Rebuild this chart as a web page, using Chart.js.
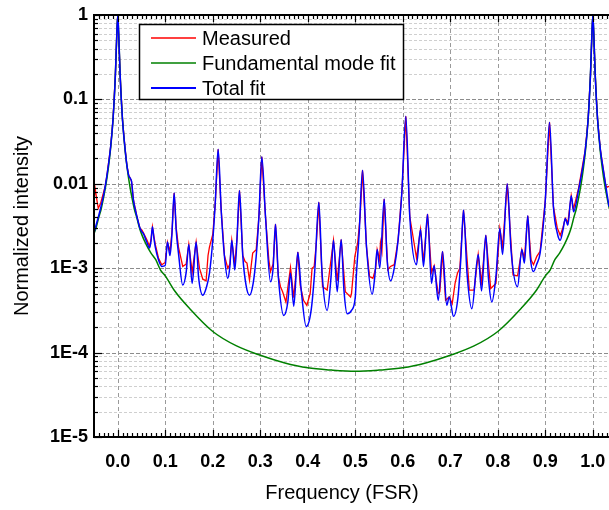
<!DOCTYPE html>
<html>
<head>
<meta charset="utf-8">
<script src="https://cdn.jsdelivr.net/npm/chart.js@4.4.1/dist/chart.umd.min.js"></script>
<style>
  html, body { margin: 0; padding: 0; background: #fff; }
</style>
</head>
<body>
<canvas id="spectrum" width="609" height="510"></canvas>
<script>
(function() {

  // frequency in units of FSR, intensity normalized to the main peak
  const measuredFreq = [
    -0.05, -0.0475, -0.044, -0.041, -0.036, -0.0265, -0.023, -0.015, -0.01, -0.005,
    -0.0025, 0, 0.0025, 0.005, 0.01, 0.015, 0.019, 0.023, 0.026, 0.029,
    0.033, 0.04, 0.047, 0.051, 0.054, 0.061, 0.067, 0.07, 0.073, 0.076,
    0.079, 0.0857, 0.0926, 0.0998, 0.1046, 0.11, 0.114, 0.1187, 0.123, 0.1278,
    0.1368, 0.144, 0.1495, 0.1566, 0.165, 0.172, 0.179, 0.186, 0.19, 0.193,
    0.2, 0.205, 0.2113, 0.2177, 0.2246, 0.2316, 0.236, 0.24, 0.2463, 0.251,
    0.2562, 0.2632, 0.268, 0.272, 0.2773, 0.284, 0.2914, 0.297, 0.3032, 0.311,
    0.318, 0.3215, 0.327, 0.332, 0.338, 0.3425, 0.347, 0.354, 0.3636, 0.3705,
    0.379, 0.384, 0.391, 0.398, 0.405, 0.409, 0.4135, 0.418, 0.4232, 0.431,
    0.4408, 0.4541, 0.4619, 0.4703, 0.479, 0.49, 0.492, 0.496, 0.499, 0.505,
    0.51, 0.5152, 0.5236, 0.53, 0.537, 0.543, 0.546, 0.551, 0.553, 0.556,
    0.5608, 0.5685, 0.574, 0.582, 0.59, 0.598, 0.6063, 0.6147, 0.6288, 0.6373,
    0.6436, 0.652, 0.6604, 0.666, 0.6745, 0.678, 0.6836, 0.69, 0.6977, 0.704,
    0.71, 0.715, 0.72, 0.7278, 0.74, 0.75, 0.7587, 0.7657, 0.7747, 0.785,
    0.796, 0.8042, 0.81, 0.8198, 0.832, 0.8415, 0.8505, 0.856, 0.863, 0.87,
    0.875, 0.882, 0.889, 0.9, 0.9088, 0.917, 0.925, 0.9313, 0.937, 0.942,
    0.9474, 0.9545, 0.9594, 0.97, 0.984, 0.99, 0.995, 0.9975, 1, 1.0025,
    1.005, 1.01, 1.016, 1.0225, 1.027, 1.03, 1.034
  ];
  const measuredValues = [
    6.46e-3, 8.71e-3, 6.46e-3, 5.13e-3, 5.89e-3, 9.33e-3, 0.0123, 0.0275, 0.0575, 0.195,
    0.49, 1, 0.49, 0.195, 0.0575, 0.0275, 0.017, 0.0126, 0.0117, 0.0107,
    6.46e-3, 4.17e-3, 2.95e-3, 2.82e-3, 2.63e-3, 2.19e-3, 1.82e-3, 2.19e-3, 3.09e-3, 2.40e-3,
    1.91e-3, 1.32e-3, 1.10e-3, 1.17e-3, 2.04e-3, 1.58e-3, 2.63e-3, 7.76e-3, 3.02e-3, 1.78e-3,
    1.05e-3, 1.12e-3, 1.91e-3, 8.91e-4, 2.04e-3, 1.00e-3, 7.41e-4, 7.08e-4, 1.41e-3, 1.78e-3,
    2.51e-3, 5.62e-3, 0.0257, 4.90e-3, 1.41e-3, 1.00e-3, 1.12e-3, 2.14e-3, 1.12e-3, 2.24e-3,
    8.32e-3, 1.41e-3, 1.20e-3, 1.15e-3, 7.24e-4, 1.51e-3, 1.66e-3, 3.98e-3, 0.0209, 4.07e-3,
    1.26e-3, 9.12e-4, 1.12e-3, 3.31e-3, 7.94e-4, 6.03e-4, 5.25e-4, 3.98e-4, 1.02e-3, 4.47e-4,
    1.55e-3, 6.31e-4, 4.17e-4, 3.63e-4, 5.01e-4, 1.00e-3, 1.05e-3, 2.00e-3, 6.03e-3, 6.03e-4,
    5.50e-4, 2.14e-3, 7.08e-4, 2.19e-3, 5.25e-4, 4.57e-4, 5.01e-4, 8.91e-4, 1.38e-3, 2.00e-3,
    3.98e-3, 0.0145, 1.78e-3, 7.94e-4, 7.59e-4, 1.00e-3, 1.66e-3, 1.26e-3, 2.00e-3, 1.58e-3,
    6.61e-3, 9.55e-4, 1.05e-3, 1.10e-3, 2.14e-3, 7.94e-3, 0.0631, 4.07e-3, 1.32e-3, 2.88e-3,
    1.20e-3, 4.37e-3, 8.91e-4, 1.07e-3, 5.01e-4, 5.25e-4, 1.58e-3, 4.17e-4, 4.57e-4, 3.80e-4,
    6.61e-4, 8.71e-4, 1.00e-3, 4.90e-3, 5.50e-4, 5.50e-4, 1.45e-3, 6.76e-4, 2.45e-3, 5.75e-4,
    6.61e-4, 2.95e-3, 1.78e-3, 0.0100, 8.32e-4, 8.13e-4, 1.66e-3, 1.32e-3, 4.17e-3, 1.26e-3,
    1.10e-3, 1.38e-3, 1.58e-3, 6.46e-3, 0.0537, 5.37e-3, 3.02e-3, 2.45e-3, 3.02e-3, 3.89e-3,
    3.47e-3, 7.24e-3, 5.01e-3, 8.91e-3, 0.0251, 0.0575, 0.195, 0.49, 1, 0.49,
    0.195, 0.0575, 0.0251, 0.0141, 9.55e-3, 9.12e-3, 9.33e-3
  ];

  const fundFreq = [
    -0.05, -0.045, -0.04, -0.035, -0.03, -0.025, -0.02, -0.015, -0.01, -0.0075,
    -0.005, -0.0025, 0, 0.0025, 0.005, 0.0075, 0.01, 0.015, 0.02, 0.025,
    0.03, 0.035, 0.04, 0.045, 0.05, 0.06, 0.07, 0.08, 0.09, 0.1,
    0.12, 0.15, 0.2, 0.25, 0.3, 0.35, 0.4, 0.45, 0.5, 0.55,
    0.6, 0.65, 0.7, 0.75, 0.8, 0.85, 0.88, 0.9, 0.91, 0.92,
    0.93, 0.94, 0.95, 0.955, 0.96, 0.965, 0.97, 0.975, 0.98, 0.985,
    0.99, 0.9925, 0.995, 0.9975, 1, 1.0025, 1.005, 1.0075, 1.01, 1.015,
    1.02, 1.025, 1.03, 1.035
  ];
  const fundValues = [
    2.55e-3, 3.1e-3, 4.0e-3, 5.0e-3, 6.8e-3, 9.7e-3, 0.0151, 0.0264, 0.0575, 0.098,
    0.196, 0.494, 1, 0.494, 0.196, 0.098, 0.0575, 0.0264, 0.0151, 9.7e-3,
    6.8e-3, 5.0e-3, 4.0e-3, 3.1e-3, 2.55e-3, 1.9e-3, 1.51e-3, 1.26e-3, 9.5e-4, 8.1e-4,
    5.37e-4, 3.39e-4, 1.78e-4, 1.2e-4, 9.3e-5, 7.6e-5, 6.6e-5, 6.2e-5, 6.0e-5, 6.2e-5,
    6.6e-5, 7.6e-5, 9.3e-5, 1.2e-4, 1.78e-4, 3.39e-4, 5.37e-4, 8.1e-4, 9.5e-4, 1.26e-3,
    1.51e-3, 1.9e-3, 2.55e-3, 3.1e-3, 4.0e-3, 5.0e-3, 6.8e-3, 9.7e-3, 0.0151, 0.0264,
    0.0575, 0.098, 0.196, 0.494, 1, 0.494, 0.196, 0.098, 0.0575, 0.0264,
    0.0151, 9.7e-3, 6.8e-3, 5.0e-3
  ];

  const fitFreq = [
    -0.05, -0.037, -0.03, -0.023, -0.015, -0.01, -0.005, -0.0025, 0, 0.0025,
    0.005, 0.01, 0.015, 0.019, 0.023, 0.026, 0.029, 0.033, 0.04, 0.047,
    0.051, 0.054, 0.061, 0.067, 0.07, 0.073, 0.076, 0.079, 0.0857, 0.0926,
    0.0998, 0.1046, 0.11, 0.114, 0.1187, 0.123, 0.1278, 0.1368, 0.144, 0.1495,
    0.1566, 0.165, 0.17, 0.179, 0.187, 0.193, 0.2, 0.205, 0.2113, 0.2177,
    0.2246, 0.2316, 0.236, 0.24, 0.2463, 0.251, 0.2562, 0.2632, 0.27, 0.2773,
    0.285, 0.2914, 0.297, 0.3032, 0.311, 0.3215, 0.327, 0.332, 0.338, 0.3495,
    0.358, 0.3636, 0.3705, 0.379, 0.386, 0.3966, 0.407, 0.415, 0.4232, 0.43,
    0.4408, 0.449, 0.4541, 0.4619, 0.4703, 0.476, 0.483, 0.492, 0.5, 0.5025,
    0.508, 0.5152, 0.5236, 0.5356, 0.541, 0.546, 0.5516, 0.5608, 0.567, 0.5747,
    0.582, 0.59, 0.598, 0.6063, 0.6147, 0.6288, 0.6373, 0.6436, 0.652, 0.6604,
    0.666, 0.6745, 0.6836, 0.6926, 0.6977, 0.7067, 0.716, 0.722, 0.7278, 0.735,
    0.7453, 0.7587, 0.7657, 0.7747, 0.78, 0.7874, 0.796, 0.8042, 0.81, 0.8198,
    0.828, 0.8415, 0.8505, 0.856, 0.863, 0.868, 0.875, 0.882, 0.889, 0.9,
    0.9088, 0.917, 0.925, 0.9313, 0.937, 0.942, 0.9474, 0.9545, 0.9594, 0.97,
    0.984, 0.99, 0.995, 0.9975, 1, 1.0025, 1.005, 1.01, 1.016, 1.0225,
    1.034
  ];
  const fitValues = [
    2.63e-3, 4.9e-3, 7.24e-3, 0.0123, 0.0275, 0.0575, 0.195, 0.49, 1, 0.49,
    0.195, 0.0575, 0.0275, 0.017, 0.0126, 0.0117, 0.0107, 6.46e-3, 4.17e-3, 2.95e-3,
    2.69e-3, 2.57e-3, 2.04e-3, 1.74e-3, 2.09e-3, 3.09e-3, 2.29e-3, 1.78e-3, 1.26e-3, 1.05e-3,
    1.07e-3, 2.04e-3, 1.41e-3, 2.51e-3, 7.76e-3, 2.82e-3, 1.51e-3, 6.31e-4, 8.91e-4, 1.91e-3,
    6.61e-4, 2.04e-3, 7.94e-4, 4.79e-4, 6.03e-4, 8.71e-4, 2.14e-3, 5.62e-3, 0.0257, 4.9e-3,
    1.38e-3, 7.59e-4, 1.05e-3, 2.14e-3, 9.55e-4, 2.24e-3, 8.32e-3, 1.38e-3, 6.31e-4, 4.79e-4,
    6.61e-4, 1.38e-3, 3.98e-3, 0.0209, 4.07e-3, 6.92e-4, 1.0e-3, 3.31e-3, 7.94e-4, 2.75e-4,
    3.98e-4, 8.71e-4, 3.55e-4, 1.55e-3, 5.62e-4, 2.04e-4, 3.16e-4, 1.0e-3, 6.03e-3, 8.91e-4,
    3.16e-4, 7.94e-4, 2.14e-3, 5.25e-4, 2.19e-3, 5.62e-4, 2.88e-4, 3.16e-4, 4.57e-4, 8.71e-4,
    2.51e-3, 0.0145, 1.78e-3, 4.9e-4, 7.94e-4, 1.66e-3, 1.0e-3, 6.61e-3, 1.26e-3, 7.08e-4,
    1.0e-3, 2.14e-3, 7.94e-3, 0.0631, 4.07e-3, 1.1e-3, 2.88e-3, 1.05e-3, 4.37e-3, 6.61e-4,
    1.07e-3, 4.17e-4, 1.58e-3, 3.63e-4, 4.57e-4, 2.69e-4, 4.47e-4, 1.26e-3, 4.9e-3, 8.91e-4,
    3.31e-4, 1.45e-3, 5.37e-4, 2.45e-3, 7.94e-4, 3.98e-4, 7.94e-4, 2.95e-3, 1.45e-3, 0.01,
    1.58e-3, 6.03e-4, 1.66e-3, 1.15e-3, 4.17e-3, 1.41e-3, 9.12e-4, 1.12e-3, 1.51e-3, 6.46e-3,
    0.0537, 5.37e-3, 2.63e-3, 2.14e-3, 2.82e-3, 3.89e-3, 3.24e-3, 7.24e-3, 4.68e-3, 8.51e-3,
    0.0251, 0.0575, 0.195, 0.49, 1, 0.49, 0.195, 0.0575, 0.0251, 0.0141,
    5.37e-3
  ];

  const xTickValues = [0, 0.1, 0.2, 0.3, 0.4, 0.5, 0.6, 0.7, 0.8, 0.9, 1.0];
  const yTickValues = [1e-5, 1e-4, 1e-3, 1e-2, 1e-1, 1];
  const yTickLabels = ['1E-5', '1E-4', '1E-3', '0.01', '0.1', '1'];

  const FONT = "'Liberation Sans', Arial, Helvetica, sans-serif";

  function points(xs, ys) {
    return xs.map((x, i) => ({ x: x, y: ys[i] }));
  }

  function strokeLine(ctx, x1, y1, x2, y2) {
    ctx.beginPath();
    ctx.moveTo(x1, y1);
    ctx.lineTo(x2, y2);
    ctx.stroke();
  }

  // dashed grid under the curves, frame/legend/titles over them
  const gridPlugin = {
    id: 'gridPlugin',
    beforeDatasetsDraw(chart) {
      const { ctx, chartArea: a, scales: { x, y } } = chart;
      ctx.save();
      ctx.lineWidth = 1;
      ctx.setLineDash([3, 2]);
      ctx.strokeStyle = '#cfcfcf';
      yTickValues.slice(0, -1).forEach(d => {
        for (let m = 2; m < 10; m++) {
          const py = Math.round(y.getPixelForValue(d * m)) + 0.5;
          strokeLine(ctx, a.left, py, a.right, py);
        }
      });
      ctx.setLineDash([4, 2]);
      ctx.strokeStyle = '#8c8c8c';
      yTickValues.forEach(d => {
        const py = Math.round(y.getPixelForValue(d)) + 0.5;
        strokeLine(ctx, a.left, py, a.right, py);
      });
      ctx.setLineDash([4, 3]);
      ctx.strokeStyle = '#9a9a9a';
      xTickValues.forEach(v => {
        const px = Math.round(x.getPixelForValue(v)) + 0.5;
        strokeLine(ctx, px, a.top, px, a.bottom);
      });
      ctx.restore();
    },
    afterDatasetsDraw(chart) {
      const { ctx, chartArea: a, scales: { x, y } } = chart;
      ctx.save();
      ctx.setLineDash([]);
      ctx.strokeStyle = '#000';

      // axis frame (left, bottom, top)
      ctx.lineWidth = 2;
      strokeLine(ctx, a.left, a.top, a.left, a.bottom + 1);
      strokeLine(ctx, a.left - 1, a.bottom, a.right, a.bottom);
      strokeLine(ctx, a.left - 1, a.top, a.right, a.top);

      // inward ticks
      ctx.lineWidth = 1.2;
      for (let k = -5; k <= 103; k++) {
        const px = Math.round(x.getPixelForValue(k / 100)) + 0.5;
        if (px <= a.left + 1) continue;
        const len = k % 10 === 0 ? 7 : 4;
        strokeLine(ctx, px, a.bottom, px, a.bottom - len);
        strokeLine(ctx, px, a.top, px, a.top + len);
      }
      yTickValues.forEach((d, i) => {
        const py = Math.round(y.getPixelForValue(d)) + 0.5;
        strokeLine(ctx, a.left, py, a.left + 8, py);
        if (i < yTickValues.length - 1) {
          for (let m = 2; m < 10; m++) {
            const pm = Math.round(y.getPixelForValue(d * m)) + 0.5;
            strokeLine(ctx, a.left, pm, a.left + 4, pm);
          }
        }
      });

      // legend box
      const box = { x: 139.5, y: 24.5, w: 264, h: 75 };
      ctx.fillStyle = '#fff';
      ctx.fillRect(box.x, box.y, box.w, box.h);
      ctx.lineWidth = 1.5;
      ctx.strokeRect(box.x, box.y, box.w, box.h);
      ctx.font = '20px ' + FONT;
      ctx.textBaseline = 'middle';
      ctx.textAlign = 'left';
      chart.data.datasets.forEach((ds, i) => {
        const ly = 38 + i * 25;
        ctx.strokeStyle = ds.borderColor;
        ctx.lineWidth = ds.legendWidth;
        strokeLine(ctx, 151, ly, 196, ly);
        ctx.fillStyle = '#000';
        ctx.fillText(ds.label, 202, ly + 1);
      });

      // axis titles
      ctx.fillStyle = '#000';
      ctx.font = '20px ' + FONT;
      ctx.textAlign = 'center';
      ctx.textBaseline = 'middle';
      ctx.fillText('Frequency (FSR)', 342, 493);
      ctx.translate(22, (a.top + a.bottom) / 2);
      ctx.rotate(-Math.PI / 2);
      ctx.fillText('Normalized intensity', 0, 0);
      ctx.restore();
    }
  };

  const ctx = document.getElementById('spectrum').getContext('2d');
  new Chart(ctx, {
    type: 'line',
    data: {
      datasets: [{
        label: 'Measured',
        data: points(measuredFreq, measuredValues),
        borderColor: '#ff0000',
        borderWidth: 1.3,
        legendWidth: 1.5,
        order: 2
      }, {
        label: 'Fundamental mode fit',
        data: points(fundFreq, fundValues),
        borderColor: '#008000',
        borderWidth: 1.5,
        legendWidth: 1.5,
        cubicInterpolationMode: 'monotone',
        order: 1
      }, {
        label: 'Total fit',
        data: points(fitFreq, fitValues),
        borderColor: '#0000ff',
        borderWidth: 1.5,
        legendWidth: 2,
        cubicInterpolationMode: 'monotone',
        order: 0
      }]
    },
    options: {
      responsive: false,
      devicePixelRatio: 1,
      animation: false,
      events: [],
      layout: { padding: { top: 15, right: 0, bottom: 0, left: 0 } },
      elements: { point: { radius: 0 }, line: { fill: false } },
      plugins: {
        legend: { display: false },
        tooltip: { enabled: false }
      },
      scales: {
        x: {
          type: 'linear',
          min: -0.05,
          max: 1.034,
          grid: { display: false, drawTicks: false },
          border: { display: false },
          afterBuildTicks: s => { s.ticks = xTickValues.map(v => ({ value: v })); },
          afterFit: s => { s.height = 73; s.paddingLeft = 0; s.paddingRight = 0; },
          ticks: {
            autoSkip: false,
            maxRotation: 0,
            padding: 14,
            color: '#000',
            font: { family: FONT, size: 18, weight: 'bold' },
            callback: v => Number(v).toFixed(1)
          }
        },
        y: {
          type: 'logarithmic',
          min: 1e-5,
          max: 1,
          grid: { display: false, drawTicks: false },
          border: { display: false },
          afterBuildTicks: s => { s.ticks = yTickValues.map(v => ({ value: v })); },
          afterFit: s => { s.width = 94; s.paddingTop = 0; s.paddingBottom = 0; },
          ticks: {
            padding: 6,
            color: '#000',
            font: { family: FONT, size: 18, weight: 'bold' },
            callback: v => yTickLabels[yTickValues.indexOf(v)]
          }
        }
      }
    },
    plugins: [gridPlugin]
  });
})();
</script>
</body>
</html>
